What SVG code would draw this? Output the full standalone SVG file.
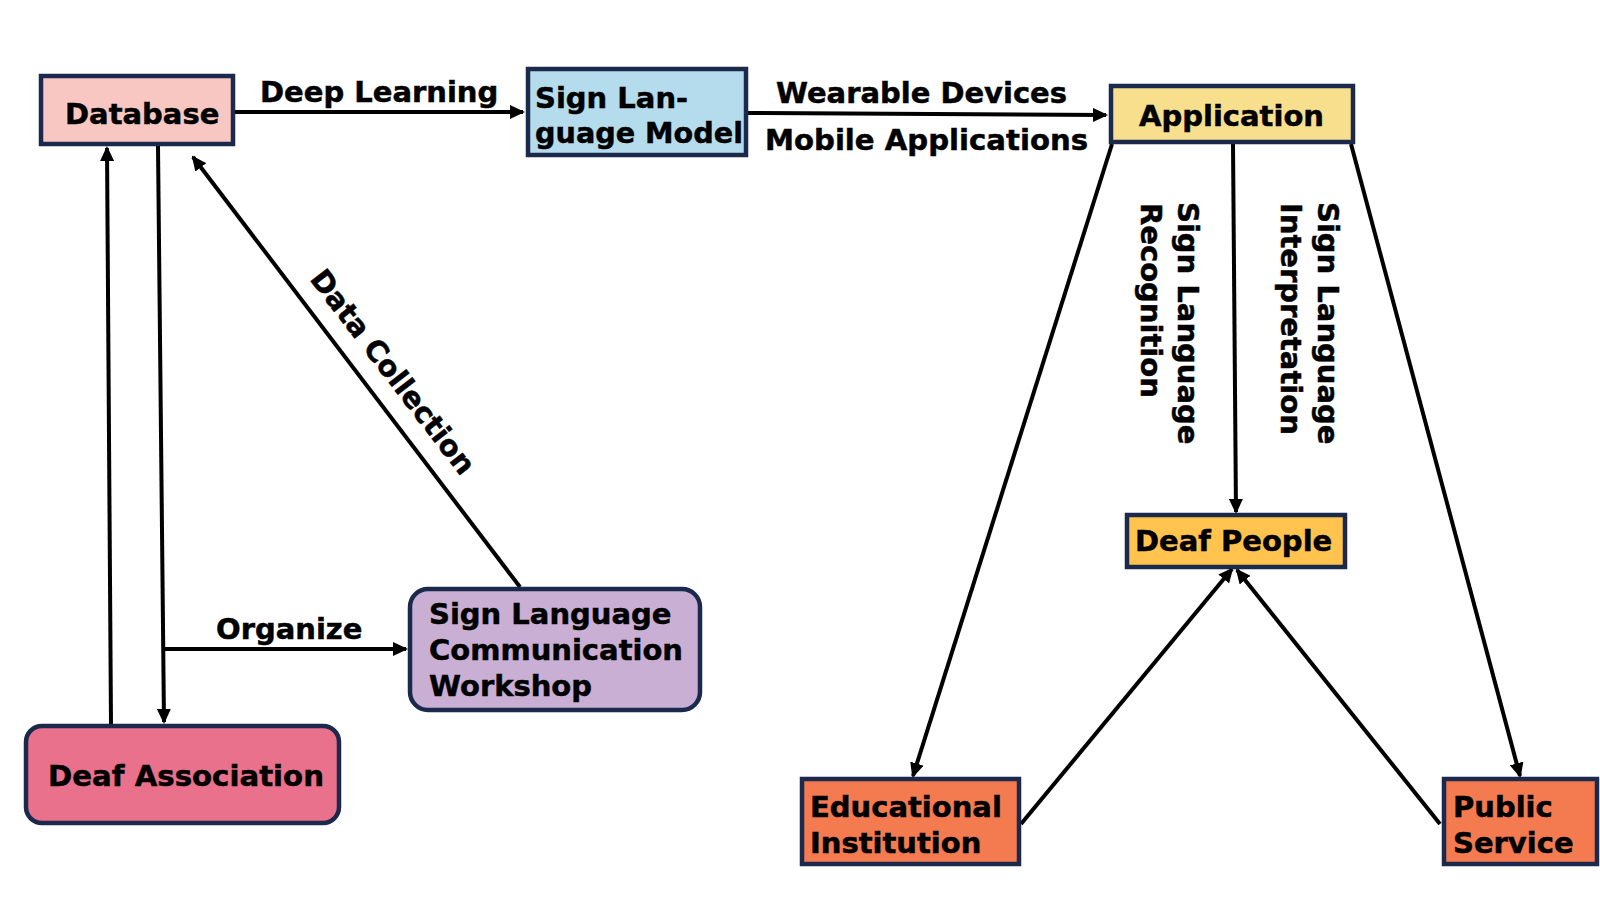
<svg xmlns="http://www.w3.org/2000/svg" width="1600" height="900" viewBox="0 0 1600 900">
<defs>
<marker id="ah" viewBox="0 0 15 14" refX="13" refY="7" markerWidth="15" markerHeight="14" markerUnits="userSpaceOnUse" orient="auto">
<path d="M0,0 L15,7 L0,14 z" fill="#000"/>
</marker>
<style>
.box{stroke:#1b2a4c;stroke-width:4.5}
.t{font-family:"DejaVu Sans","Verdana",sans-serif;font-weight:bold;font-size:29px;fill:#000;stroke:#000;stroke-width:0.5}
.c{stroke:#000;stroke-width:4;fill:none;marker-end:url(#ah)}
</style>
</defs>
<rect width="1600" height="900" fill="#fff"/>

<g id="connectors">
<line class="c" x1="234" y1="112" x2="523" y2="112"/>
<line class="c" x1="747" y1="113" x2="1106" y2="115"/>
<line class="c" x1="111" y1="724" x2="107" y2="148"/>
<line class="c" x1="158" y1="146" x2="164" y2="722"/>
<line class="c" x1="164" y1="649" x2="406" y2="649"/>
<line class="c" x1="520" y1="587" x2="193" y2="157"/>
<line class="c" x1="1112" y1="144" x2="913" y2="776"/>
<line class="c" x1="1351" y1="144" x2="1520" y2="776"/>
<line class="c" x1="1233" y1="144" x2="1236" y2="512"/>
<line class="c" x1="1021" y1="824" x2="1232" y2="569"/>
<line class="c" x1="1440" y1="824" x2="1237" y2="570"/>
<text class="t" x="260" y="102">Deep Learning</text>
<text class="t" x="776" y="103" textLength="291" lengthAdjust="spacingAndGlyphs">Wearable Devices</text>
<text class="t" x="765" y="150" textLength="323" lengthAdjust="spacingAndGlyphs">Mobile Applications</text>
<text class="t" x="216" y="639">Organize</text>
<text class="t" text-anchor="middle" transform="translate(385,378) rotate(52.4)">Data Collection</text>
<text class="t" transform="translate(1178,202) rotate(90)">Sign Language</text>
<text class="t" transform="translate(1141,203) rotate(90)">Recognition</text>
<text class="t" transform="translate(1318,202) rotate(90)">Sign Language</text>
<text class="t" transform="translate(1281,203) rotate(90)">Interpretation</text>
</g>

<g id="database">
<rect class="box" x="41" y="76" width="192" height="68" fill="#f8c7c2"/>
<text class="t" x="65" y="124">Database</text>
</g>

<g id="sign-language-model">
<rect class="box" x="528" y="69" width="218" height="86" fill="#b5dcec"/>
<text class="t" x="535" y="108">Sign Lan-</text>
<text class="t" x="535" y="143" textLength="208" lengthAdjust="spacingAndGlyphs">guage Model</text>
</g>

<g id="application">
<rect class="box" x="1111" y="86" width="242" height="56" fill="#f8df8e"/>
<text class="t" x="1139" y="126">Application</text>
</g>

<g id="deaf-people">
<rect class="box" x="1127" y="515" width="218" height="52" fill="#ffc34e"/>
<text class="t" x="1135" y="551">Deaf People</text>
</g>

<g id="educational-institution">
<rect class="box" x="802" y="779" width="217" height="85" fill="#f47a50"/>
<text class="t" x="810" y="817">Educational</text>
<text class="t" x="810" y="853">Institution</text>
</g>

<g id="public-service">
<rect class="box" x="1444" y="779" width="153" height="85" fill="#f47a50"/>
<text class="t" x="1453" y="817">Public</text>
<text class="t" x="1453" y="853">Service</text>
</g>

<g id="workshop">
<rect class="box" x="410" y="589" width="290" height="121" rx="18" ry="18" fill="#c9afd4"/>
<text class="t" x="429" y="624">Sign Language</text>
<text class="t" x="429" y="660">Communication</text>
<text class="t" x="429" y="696">Workshop</text>
</g>

<g id="deaf-association">
<rect class="box" x="26" y="726" width="313" height="97" rx="16" ry="16" fill="#e9718b"/>
<text class="t" x="48" y="786" textLength="276" lengthAdjust="spacingAndGlyphs">Deaf Association</text>
</g>
</svg>
